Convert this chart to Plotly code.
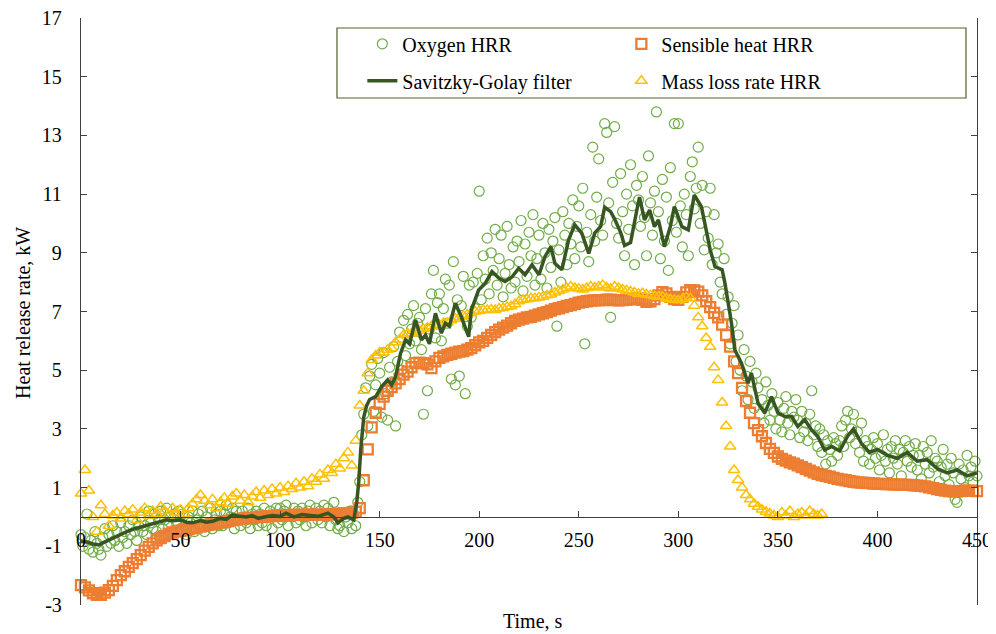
import plotly.graph_objects as go

# ---------------- data ----------------
time_s = list(range(0, 451))
oxygen_hrr = [
    -0.6, -1.0, -0.7, 0.1, -1.1, -0.8, -1.2, -0.5, -0.9, -1.1,
    -1.3, -0.7, -0.4, -1.0, -0.6, -0.9, -0.3, -0.8, -0.5, -1.0,
    -0.2, -0.7, -0.5, -0.9, -0.3, -0.6, -0.1, -0.5, -0.8, -0.3,
    0.0, -0.5, -0.3, -0.6, 0.2, -0.2, -0.4, 0.1, -0.5, -0.1,
    0.2, -0.4, -0.1, 0.3, -0.3, 0.0, -0.5, 0.1, -0.2, 0.2,
    -0.4, 0.1, -0.3, -0.6, 0.0, -0.2, 0.2, -0.5, -0.1, 0.1,
    -0.3, 0.2, -0.5, 0.0, -0.2, 0.3, -0.4, -0.1, 0.1, -0.3,
    0.2, -0.3, 0.1, 0.4, -0.2, 0.0, 0.3, -0.4, 0.2, -0.1,
    -0.3, 0.2, 0.0, -0.2, 0.3, -0.4, 0.1, -0.1, 0.2, -0.3,
    0.1, -0.2, 0.3, -0.3, 0.0, 0.2, -0.4, 0.1, 0.3, -0.2,
    0.3, -0.1, 0.2, 0.4, -0.3, 0.1, 0.0, 0.3, -0.2, 0.2,
    -0.1, 0.3, 0.0, -0.3, 0.2, 0.4, -0.2, 0.1, 0.3, -0.1,
    0.2, -0.2, 0.4, 0.0, 0.3, -0.3, 0.1, 0.5, -0.1, -0.4,
    -0.3, 0.1, -0.5, 0.0, -0.2, 0.2, -0.4, 0.1, -0.3, 0.5,
    1.2, 2.8, 3.5, 4.4, 3.1, 4.8, 5.2, 3.6, 4.5, 5.4,
    4.9, 3.4, 5.6, 4.2, 3.3, 5.1, 4.6, 5.8, 3.1, 5.3,
    6.3, 5.0, 6.7, 5.5, 6.9, 5.9, 6.4, 7.2, 6.0, 6.6,
    6.8, 5.7, 3.5, 7.1, 4.3, 6.4, 7.6, 8.4, 6.1, 7.3,
    7.6, 6.0, 7.1, 8.1, 6.6, 7.9, 4.7, 8.7, 4.5, 7.4,
    4.8, 7.2, 8.2, 4.2, 6.5, 7.9, 6.8, 8.0, 7.1, 8.3,
    11.1, 7.4, 8.9, 8.1, 9.5, 7.6, 9.0, 8.4, 9.8, 7.9,
    8.8, 9.6, 7.5, 8.3, 9.9, 8.6, 7.8, 9.2, 8.0, 9.4,
    8.7, 10.1, 7.7, 9.3, 8.2, 9.7, 8.9, 10.3, 7.9, 8.8,
    9.6, 8.1, 10.0, 9.0, 7.8, 9.8, 8.5, 9.4, 10.2, 6.5,
    9.1, 8.0, 10.4, 9.6, 8.6, 10.0, 9.3, 10.8, 8.8, 9.9,
    10.6, 9.2, 11.2, 5.9, 9.7, 8.7, 10.3, 12.6, 9.4, 10.9,
    12.2, 10.1, 9.6, 13.4, 13.1, 10.7, 6.8, 11.4, 13.3, 10.0,
    9.5, 11.7, 10.4, 8.9, 11.0, 9.8, 12.0, 10.6, 8.6, 11.3,
    10.8, 9.9, 11.6, 10.2, 8.9, 12.3, 10.7, 9.6, 11.1, 13.8,
    10.4, 8.8, 11.5, 9.4, 10.9, 8.4, 11.9, 10.1, 13.4, 9.7,
    13.4, 10.6, 9.2, 11.0, 10.3, 8.9, 11.6, 12.1, 10.5, 11.2,
    12.6, 10.0, 11.3, 9.1, 10.4, 9.5, 11.2, 8.6, 10.3, 9.0,
    9.3, 8.0, 7.6, 8.8, 6.9, 7.5, 5.9, 6.6, 7.2, 5.3,
    6.2, 5.0, 4.3, 5.7, 4.8, 4.0, 5.3, 4.6, 3.7, 4.9,
    4.4, 3.5, 4.0, 3.2, 4.6, 3.8, 3.3, 4.2, 3.6, 3.0,
    3.9, 3.3, 2.9, 3.7, 4.1, 3.2, 2.8, 3.6, 3.4, 4.0,
    3.3, 2.7, 3.6, 2.9, 3.2, 2.6, 3.5, 4.3, 2.8, 3.1,
    2.4, 3.0, 2.2, 2.8, 1.8, 2.6, 2.3, 1.9, 2.7, 2.5,
    2.1, 2.6, 3.1, 2.4, 3.3, 3.6, 2.7, 3.0, 3.5, 2.5,
    2.9, 2.2, 3.2, 1.9, 2.6, 2.4, 1.8, 2.3, 2.7, 2.0,
    2.5, 1.6, 2.1, 2.8, 1.9, 2.3, 1.5, 2.4, 2.0, 2.6,
    1.8, 2.3, 1.4, 2.2, 2.6, 1.9, 2.4, 1.7, 2.1, 2.5,
    1.6, 2.1, 1.3, 2.4, 1.8, 2.2, 1.5, 2.6, 1.7, 2.0,
    1.9, 1.2, 1.7, 2.3, 1.4, 1.8, 1.1, 2.0, 1.5, 0.6,
    0.5, 1.8, 1.3, 1.6, 1.0, 2.1, 1.4, 1.7, 1.2, 1.9,
    1.4,
]

sensible_t = list(range(0, 451, 2))
sensible_hrr = [
    -2.32, -2.4, -2.5, -2.6, -2.65, -2.65, -2.58, -2.49, -2.35, -2.15,
    -1.98, -1.85, -1.7, -1.57, -1.44, -1.3, -1.15, -1.02, -0.9, -0.8,
    -0.72, -0.65, -0.58, -0.53, -0.5, -0.47, -0.44, -0.41, -0.39, -0.36,
    -0.33, -0.3, -0.27, -0.24, -0.22, -0.19, -0.16, -0.14, -0.11, -0.09,
    -0.07, -0.05, -0.04, -0.03, -0.01, 0.0, 0.01, 0.02, 0.03, 0.04,
    0.05, 0.05, 0.06, 0.07, 0.07, 0.07, 0.07, 0.08, 0.08, 0.07,
    0.07, 0.08, 0.09, 0.1, 0.1, 0.11, 0.12, 0.12, 0.14, 0.18,
    0.3, 1.25, 2.3, 3.05, 3.55, 3.85, 4.1, 4.3, 4.42, 4.55,
    4.7, 4.85, 4.95, 5.1, 5.24, 5.26, 5.24, 5.2, 5.07, 5.3,
    5.42, 5.47, 5.52, 5.56, 5.6, 5.63, 5.65, 5.7, 5.75, 5.85,
    5.95, 6.0, 6.1, 6.2, 6.3, 6.38, 6.45, 6.52, 6.6, 6.68,
    6.72, 6.76, 6.8, 6.82, 6.86, 6.9, 6.94, 6.98, 7.03, 7.08,
    7.11, 7.15, 7.19, 7.22, 7.26, 7.3, 7.33, 7.35, 7.37, 7.38,
    7.39, 7.39, 7.4, 7.4, 7.39, 7.38, 7.39, 7.4, 7.41, 7.43,
    7.45, 7.4, 7.33, 7.35, 7.42, 7.55, 7.66, 7.62, 7.5, 7.42,
    7.4, 7.5, 7.65, 7.73, 7.72, 7.68, 7.55, 7.35, 7.15, 6.95,
    6.8, 6.55, 6.2, 5.8, 5.3, 4.9, 4.4, 3.95, 3.55, 3.2,
    2.96, 2.75, 2.52, 2.32, 2.18, 2.06, 1.98, 1.92, 1.86, 1.82,
    1.76, 1.7, 1.64, 1.58, 1.52, 1.47, 1.43, 1.4, 1.37, 1.33,
    1.3, 1.27, 1.25, 1.22, 1.2, 1.18, 1.17, 1.16, 1.15, 1.14,
    1.13, 1.13, 1.12, 1.12, 1.11, 1.1, 1.1, 1.09, 1.09, 1.08,
    1.07, 1.06, 1.04, 1.01, 0.98, 0.95, 0.92, 0.9, 0.88, 0.87,
    0.87, 0.88, 0.9, 0.9, 0.89, 0.88,
]

mass_loss_t = list(range(0, 373, 2))
mass_loss_hrr = [
    0.8, 1.6, 0.9, 0.0, -0.5, 0.4, 0.1, -0.3, 0.05, 0.15,
    -0.05, 0.2, 0.1, 0.25, -0.1, 0.15, 0.3, 0.05, 0.2, 0.1,
    0.35, 0.2, 0.05, 0.3, 0.15, 0.25, 0.1, 0.3, 0.45, 0.6,
    0.75, 0.55, 0.4, 0.6, 0.3, 0.5, 0.65, 0.45, 0.7, 0.8,
    0.55, 0.75, 0.5, 0.7, 0.85, 0.65, 0.9, 0.75, 0.95, 0.8,
    1.0, 0.85, 1.05, 0.95, 1.15, 1.0, 1.2, 1.05, 1.3, 1.2,
    1.45, 1.3, 1.6, 1.5, 1.8, 1.65, 2.0, 2.2, 1.75, 2.6,
    3.8, 4.3, 4.9, 5.35, 5.5, 5.6, 5.6, 5.7, 5.75, 5.95,
    6.05, 6.2, 6.25, 6.25, 6.3, 6.35, 6.4, 6.45, 6.5, 6.5,
    6.55, 6.6, 6.62, 6.7, 6.75, 6.8, 6.85, 6.9, 6.95, 7.0,
    7.02, 7.05, 7.05, 7.07, 7.05, 7.1, 7.12, 7.15, 7.18, 7.25,
    7.35, 7.4, 7.42, 7.45, 7.45, 7.48, 7.5, 7.55, 7.58, 7.65,
    7.7, 7.75, 7.8, 7.85, 7.8, 7.78, 7.75, 7.8, 7.85, 7.82,
    7.85, 7.9, 7.82, 7.78, 7.85, 7.8, 7.75, 7.72, 7.68, 7.65,
    7.6, 7.62, 7.58, 7.55, 7.52, 7.5, 7.5, 7.45, 7.42, 7.4,
    7.38, 7.42, 7.48, 7.45, 7.2, 6.8, 6.5, 6.1, 5.8, 5.1,
    4.67, 3.9, 3.1, 2.4, 1.6, 1.26, 1.0, 0.75, 0.6, 0.45,
    0.35, 0.25, 0.18, 0.12, 0.05, 0.0, 0.15, 0.05, 0.2, 0.0,
    0.1, 0.15, 0.05, 0.2, 0.1, 0.05, 0.1,
]

sg_t = [0, 3, 6, 9, 12, 16, 20, 23, 27, 31, 35, 39, 43, 46, 50, 53, 56, 60, 63, 66,
        70, 73, 76, 80, 83, 86, 89, 92, 96, 100, 103, 107, 111, 115, 119, 124, 127, 129,
        132, 134, 137, 138.5, 139.5, 140.5, 142, 143.5, 145, 148, 151, 154, 156, 158,
        160.5, 163, 165, 168, 171, 173, 175, 178, 181, 183, 185, 188, 191, 194.7, 196,
        199.7, 203, 206.4, 210, 213, 216.6, 219.8, 223, 226.5, 230, 233, 236, 238, 241.5,
        244.9, 248, 251.5, 255, 258, 261, 263, 266, 268, 271, 273, 276, 279, 280.5, 283,
        285.6, 288, 290, 293, 296, 298, 301.8, 305, 308, 311.6, 313.5, 316, 318.4, 322,
        323.4, 326.7, 328.4, 331.7, 335, 336.7, 340, 343.4, 346.8, 350, 353.5, 357, 360,
        363.5, 366.8, 370, 373.5, 377, 381, 385, 388, 392, 396, 400, 405, 410, 415, 420,
        425, 430, 435, 440, 445, 450]
sg_hrr = [-0.84, -0.85, -0.92, -0.95, -0.85, -0.72, -0.6, -0.5, -0.4, -0.33, -0.25, -0.2,
          -0.1, -0.13, -0.1, -0.18, -0.2, -0.12, -0.18, -0.15, -0.05, -0.08, 0.07, 0.02,
          0.0, 0.05, -0.05, 0.0, 0.05, 0.02, 0.13, 0.0, 0.08, 0.05, 0.02, 0.13, 0.0, -0.2,
          -0.05, 0.0, -0.1, 0.5, 1.2, 2.3, 3.4, 3.8, 4.0, 4.1, 4.44, 4.67, 4.5, 4.78,
          5.58, 6.03, 5.9, 6.71, 6.03, 6.2, 5.9, 6.94, 6.26, 6.6, 6.5, 7.28, 6.82, 6.14,
          7.05, 7.73, 7.96, 8.36, 8.13, 8.02, 8.19, 8.47, 8.25, 8.59, 8.25, 8.87, 9.21,
          8.64, 8.42, 9.44, 9.95, 9.67, 8.98, 9.67, 9.9, 10.55, 10.4, 10.15, 9.7, 9.25,
          9.35, 10.4, 10.9, 10.12, 10.46, 9.89, 10.12, 9.21, 9.9, 10.57, 9.89, 9.78,
          10.97, 10.57, 9.9, 9.1, 8.53, 8.42, 7.97, 6.6, 5.69, 5.24, 4.56, 4.9, 3.88,
          3.54, 4.1, 3.54, 3.42, 3.42, 3.08, 3.31, 2.97, 2.74, 2.28, 2.4, 2.25, 2.75,
          3.0, 2.5, 2.2, 2.3, 2.1, 2.0, 2.2, 1.9, 1.95, 1.65, 1.5, 1.6, 1.4, 1.5]

x_ticks = [0, 50, 100, 150, 200, 250, 300, 350, 400, 450]
y_ticks = [-3, -1, 1, 3, 5, 7, 9, 11, 13, 15, 17]

# ---------------- figure ----------------
FONT = "Liberation Serif"
AXIS_COLOR = "#404040"

fig = go.Figure()
fig.add_trace(go.Scatter(
    x=time_s, y=oxygen_hrr, mode="markers", name="Oxygen HRR",
    marker=dict(symbol="circle-open", size=10, color="#70AD47",
                line=dict(width=1.2, color="#70AD47")),
    legend="legend", legendrank=1, cliponaxis=False))
fig.add_trace(go.Scatter(
    x=sensible_t, y=sensible_hrr, mode="markers", name="Sensible heat HRR",
    marker=dict(symbol="square-open", size=10, color="#ED7D31",
                line=dict(width=2.3, color="#ED7D31")),
    legend="legend", legendrank=2, cliponaxis=False))
fig.add_trace(go.Scatter(
    x=mass_loss_t, y=mass_loss_hrr, mode="markers", name="Mass loss rate HRR",
    marker=dict(symbol="triangle-up-open", size=10, color="#FFC000",
                line=dict(width=1.5, color="#FFC000")),
    legend="legend2", legendrank=2, cliponaxis=False))
fig.add_trace(go.Scatter(
    x=sg_t, y=sg_hrr, mode="lines", name="Savitzky-Golay filter",
    line=dict(color="#375623", width=3.5),
    legend="legend2", legendrank=1, cliponaxis=False))

legend_common = dict(
    orientation="h", xanchor="left", yanchor="middle",
    entrywidth=214, entrywidthmode="pixels",
    bgcolor="rgba(0,0,0,0)", borderwidth=0,
    font=dict(family=FONT, size=20, color="black"),
    traceorder="normal",
)

# the page places the figure 8 px from the top-left corner of the window
fig.update_layout(
    width=988, height=626,
    margin=dict(l=73, r=19, t=10, b=29, autoexpand=False),
    paper_bgcolor="white", plot_bgcolor="white",
    font=dict(family=FONT, size=20, color="black"),
    legend=dict(x=0.314, y=0.956, **legend_common),
    legend2=dict(x=0.314, y=0.893, **legend_common),
    xaxis=dict(
        range=[0, 450], tickvals=x_ticks, ticktext=[str(v) for v in x_ticks],
        anchor="free", position=0.15, automargin=False,
        showline=True, linecolor=AXIS_COLOR, linewidth=1.3,
        ticks="inside", ticklen=6, tickcolor=AXIS_COLOR, tickwidth=1.3,
        mirror="ticks", showgrid=False, zeroline=False,
        tickfont=dict(family=FONT, size=20, color="black"),
        ticklabelstandoff=5, ticklabeloverflow="allow",
    ),
    yaxis=dict(
        range=[-3, 17], tickvals=y_ticks, ticktext=[str(v) for v in y_ticks],
        automargin=False,
        showline=True, linecolor=AXIS_COLOR, linewidth=1.3,
        ticks="inside", ticklen=6, tickcolor=AXIS_COLOR, tickwidth=1.3,
        mirror="ticks", showgrid=False, zeroline=False,
        tickfont=dict(family=FONT, size=20, color="black"),
        ticklabelstandoff=14, ticklabeloverflow="allow",
    ),
    shapes=[dict(
        type="rect", xref="paper", yref="paper",
        x0=0.2857, x1=0.9877, y0=0.8637, y1=0.983,
        line=dict(color="#4F6228", width=1.2), fillcolor="white", layer="below",
    )],
    annotations=[
        dict(text="Heat release rate, kW", xref="paper", yref="paper",
             x=-0.064, y=0.497, textangle=-90, showarrow=False,
             xanchor="center", yanchor="middle",
             font=dict(family=FONT, size=20, color="black")),
        dict(text="Time, s", xref="paper", yref="paper",
             x=0.5045, y=-0.027, showarrow=False,
             xanchor="center", yanchor="middle",
             font=dict(family=FONT, size=20, color="black")),
    ],
)

fig.write_html("out.html")
